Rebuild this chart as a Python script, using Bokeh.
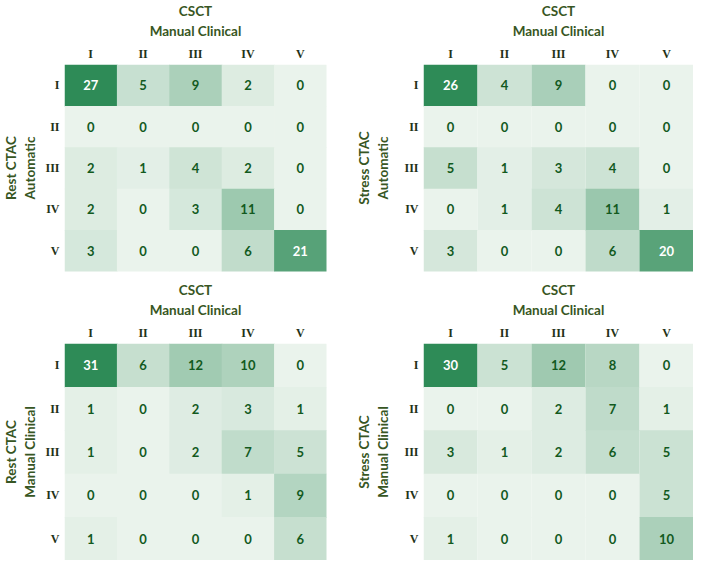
from bokeh.plotting import figure
from bokeh.models import ColumnDataSource, LinearColorMapper
from bokeh.layouts import column, row
from bokeh.embed import file_html
from bokeh.resources import INLINE
from bokeh.core.properties import value
from bokeh.transform import transform

grades = ["I", "II", "III", "IV", "V"]
x_title = "CSCT\nManual Clinical"

rest_auto = [[27, 5, 9, 2, 0], [0, 0, 0, 0, 0], [2, 1, 4, 2, 0], [2, 0, 3, 11, 0], [3, 0, 0, 6, 21]]
stress_auto = [[26, 4, 9, 0, 0], [0, 0, 0, 0, 0], [5, 1, 3, 4, 0], [0, 1, 4, 11, 1], [3, 0, 0, 6, 20]]
rest_manual = [[31, 6, 12, 10, 0], [1, 0, 2, 3, 1], [1, 0, 2, 7, 5], [0, 0, 0, 1, 9], [1, 0, 0, 0, 6]]
stress_manual = [[30, 5, 12, 8, 0], [0, 0, 2, 7, 1], [3, 1, 2, 6, 5], [0, 0, 0, 0, 5], [1, 0, 0, 0, 10]]

LOW = (234, 243, 236)
HIGH = (46, 139, 87)
palette = []
for i in range(256):
    t = i / 255
    c = tuple(int(round(LOW[k] + (HIGH[k] - LOW[k]) * t)) for k in range(3))
    palette.append("#%02x%02x%02x" % c)

TITLE_COLOR = "#375623"
TICK_COLOR = "#1f3318"
NUM_COLOR = "#125a1e"


def make(matrix, ylab, width, height, bl, bt, bb, br, ystand):
    xs, ys, vs, ts, tcs = [], [], [], [], []
    mx = max(max(r) for r in matrix)
    for i, rlab in enumerate(grades):
        for j, clab in enumerate(grades):
            v = matrix[i][j]
            xs.append(clab)
            ys.append(rlab)
            vs.append(v)
            ts.append(str(v))
            tcs.append("white" if v / mx > 0.6 else NUM_COLOR)
    src = ColumnDataSource(dict(x=xs, y=ys, v=vs, t=ts, tc=tcs))
    mapper = LinearColorMapper(palette=palette, low=0, high=mx)
    p = figure(x_range=grades, y_range=list(reversed(grades)), width=width, height=height,
               toolbar_location=None, output_backend="svg", x_axis_location="above",
               min_border_left=bl, min_border_top=bt, min_border_bottom=bb, min_border_right=br)
    p.rect(x="x", y="y", width=1, height=1, source=src, fill_color=transform("v", mapper),
           line_color=None, dilate=True)
    p.text(x="x", y="y", text="t", source=src, text_color="tc", text_align="center",
           text_baseline="middle", text_font=value("Lato"), text_font_style="bold",
           text_font_size="13px")
    p.outline_line_color = None
    p.grid.grid_line_color = None
    p.axis.axis_line_color = None
    p.axis.major_tick_line_color = None
    p.axis.minor_tick_line_color = None
    p.axis.major_tick_out = 0
    p.axis.major_tick_in = 0
    p.axis.major_label_text_font = "Liberation Serif"
    p.axis.major_label_text_font_style = "bold"
    p.axis.major_label_text_font_size = "12px"
    p.axis.major_label_text_color = TICK_COLOR
    p.axis.axis_label_text_font = "Lato"
    p.axis.axis_label_text_font_style = "bold"
    p.axis.axis_label_text_font_size = "13.5px"
    p.axis.axis_label_text_color = TITLE_COLOR
    p.xaxis.axis_label = x_title
    p.xaxis.major_label_standoff = 4
    p.xaxis.axis_label_standoff = 5
    p.yaxis.axis_label = ylab
    p.yaxis.major_label_standoff = 5
    p.yaxis.axis_label_standoff = ystand
    return p


p1 = make(rest_auto, "Rest CTAC\nAutomatic", 332, 275, 56, 54, 4, 6, 4)
p2 = make(stress_auto, "Stress CTAC\nAutomatic", 361, 275, 91, 54, 4, 0, 10)
p3 = make(rest_manual, "Rest CTAC\nManual Clinical", 332, 285, 56, 68, 0, 6, 4)
p4 = make(stress_manual, "Stress CTAC\nManual Clinical", 361, 285, 91, 68, 0, 0, 10)

layout = column(row(p1, p2), row(p3, p4))
open("out.html", "w").write(file_html(layout, INLINE))
